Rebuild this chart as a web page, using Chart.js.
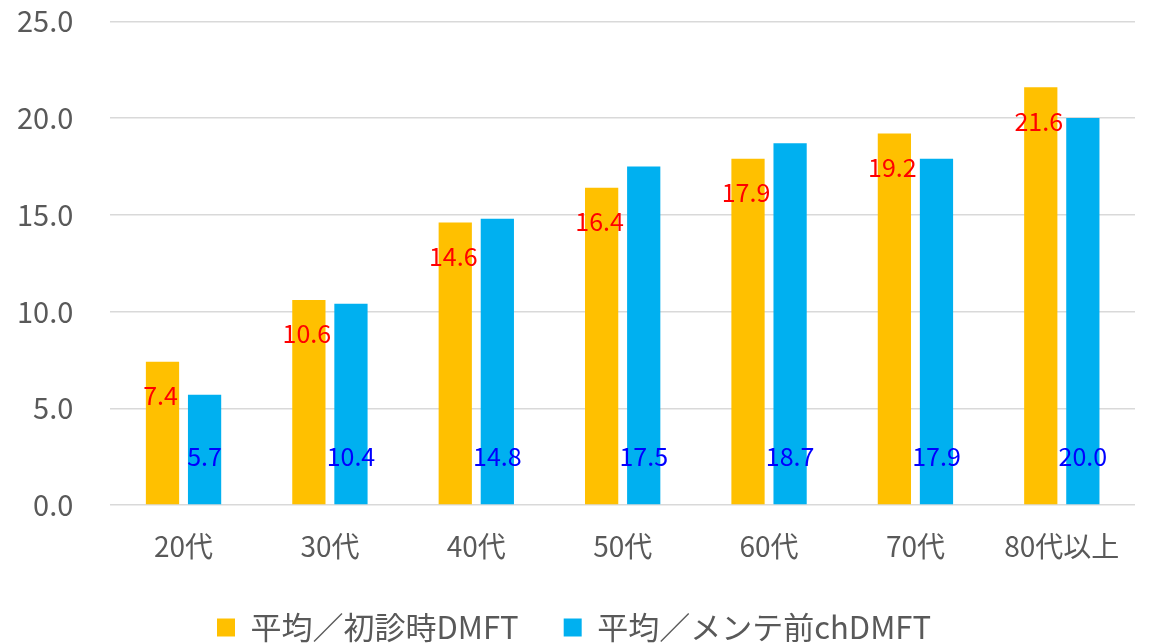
<!DOCTYPE html>
<html>
<head>
<meta charset="utf-8">
<script src="https://cdn.jsdelivr.net/npm/chart.js@4/dist/chart.umd.min.js"></script>
<style>
  html, body { margin: 0; padding: 0; background: #fff; }
  #wrap { width: 1150px; height: 643px; }
</style>
</head>
<body>
<div id="wrap"><canvas id="myChart"></canvas></div>
<script>
var categories = ['20代', '30代', '40代', '50代', '60代', '70代', '80代以上'];
var firstVisit = [7.4, 10.6, 14.6, 16.4, 17.9, 19.2, 21.6];
var beforeMaint = [5.7, 10.4, 14.8, 17.5, 18.7, 17.9, 20.0];
var seriesNames = ['平均／初診時DMFT', '平均／メンテ前chDMFT'];

var FONT = "'Noto Sans CJK JP', 'Noto Sans', sans-serif";

// data labels: red ones near the bar top, blue ones near the bottom
var valueLabels = {
  id: 'valueLabels',
  afterDatasetsDraw: function(chart) {
    var ctx = chart.ctx;
    ctx.save();
    ctx.font = '25px ' + FONT;
    ctx.textAlign = 'center';
    ctx.textBaseline = 'middle';
    chart.data.datasets.forEach(function(ds, di) {
      var meta = chart.getDatasetMeta(di);
      meta.data.forEach(function(bar, i) {
        var txt = ds.data[i].toFixed(1);
        if (di === 0) {
          ctx.fillStyle = '#FF0000';
          ctx.fillText(txt, bar.x - 2, bar.y + 34);
        } else {
          ctx.fillStyle = '#0000FF';
          ctx.fillText(txt, bar.x, bar.base - 48);
        }
      });
    });
    ctx.restore();
  }
};

var ctx = document.getElementById('myChart');
var chart = new Chart(ctx, {
  type: 'bar',
  data: {
    labels: categories,
    datasets: [{
      label: seriesNames[0],
      backgroundColor: '#FFC000',
      data: firstVisit
    },
    {
      label: seriesNames[1],
      backgroundColor: '#00B0F0',
      data: beforeMaint
    }]
  },
  options: {
    responsive: true,
    maintainAspectRatio: false,
    animation: false,
    layout: { padding: { left: 13, right: 15, top: 0, bottom: -10 } },
    datasets: {
      bar: { categoryPercentage: 0.575, barPercentage: 0.79 }
    },
    scales: {
      x: {
        grid: { display: false },
        border: { display: false },
        ticks: { color: '#595959', font: { family: FONT, size: 28 }, padding: 17 },
        afterFit: function(scale) { scale.height = 62; }
      },
      y: {
        min: 0,
        max: 25,
        border: { display: false },
        grid: { color: '#d9d9d9', lineWidth: 1.5, drawTicks: true, tickLength: 33, tickColor: 'rgba(0,0,0,0)' },
        ticks: {
          stepSize: 5,
          color: '#595959',
          padding: 4,
          font: { family: FONT, size: 29 },
          callback: function(v) { return v.toFixed(1); }
        }
      }
    },
    plugins: {
      legend: {
        position: 'bottom',
        labels: {
          color: '#595959',
          font: { family: FONT, size: 31 },
          boxWidth: 18,
          boxHeight: 18,
          padding: 45
        }
      },
      tooltip: { enabled: false }
    }
  },
  plugins: [valueLabels]
});
</script>
</body>
</html>
